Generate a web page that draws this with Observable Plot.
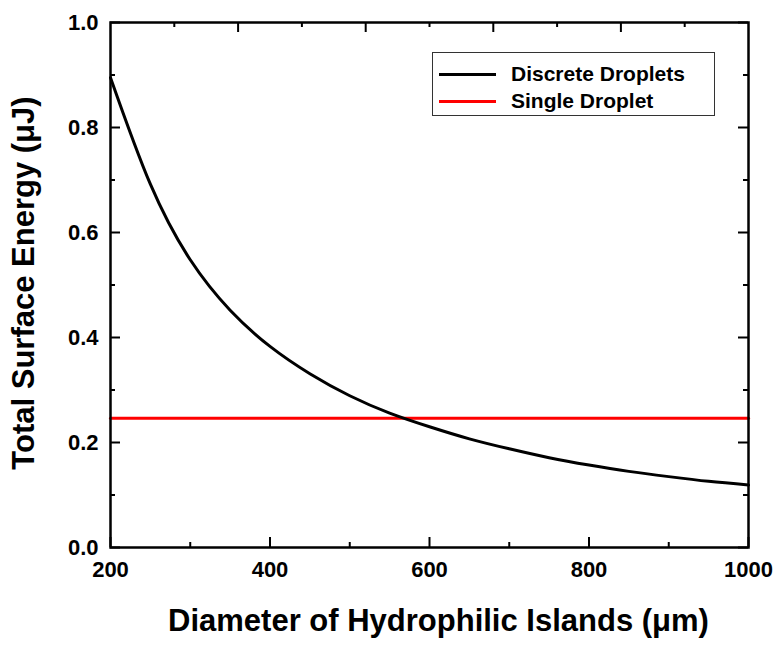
<!DOCTYPE html>
<html>
<head>
<meta charset="utf-8">
<script src="https://cdn.jsdelivr.net/npm/d3@7"></script>
<script src="https://cdn.jsdelivr.net/npm/@observablehq/plot@0.6"></script>
<style>
  html, body { margin: 0; padding: 0; background: #fff; }
  #wrap { position: relative; width: 778px; height: 646px; font-family: "Liberation Sans", Arial, sans-serif; }
  #legend { position: absolute; left: 432px; top: 52px; width: 283px; height: 64px; border: 1px solid #333; box-sizing: border-box; background: #fff; }
  .row { position: absolute; left: 0; height: 24px; display: flex; align-items: center; }
  .swatch { width: 57px; height: 3px; margin-left: 6px; margin-right: 15px; }
  .lab { font-size: 21px; font-weight: bold; color: #000; }
</style>
</head>
<body>
<div id="wrap"><div id="chart"></div><div id="legend"></div></div>
<script>
// Series names and colours
const seriesNames = ["Discrete Droplets", "Single Droplet"];
const seriesColors = ["black", "red"];

// Discrete droplets: total surface energy (µJ) vs island diameter (µm)
const diameter = [200, 250, 300, 350, 400, 450, 500, 550, 600, 650, 700, 750, 800, 850, 900, 950, 1000];
const energy   = [0.895, 0.692, 0.548, 0.452, 0.383, 0.331, 0.289, 0.256, 0.230, 0.207, 0.188, 0.171, 0.157, 0.145, 0.135, 0.126, 0.119];

// Single droplet: constant energy
const singleEnergy = 0.246;
const singleRange = [200, 1000];

// Axis ticks
const xMajor = [200, 400, 600, 800, 1000];
const xMinor = [300, 500, 700, 900];
const xTopMajor = [360, 520, 680, 840];
const xTopMinor = [280, 440, 600, 760, 920];
const yMajor = [0.0, 0.2, 0.4, 0.6, 0.8, 1.0];
const yMinor = [0.1, 0.3, 0.5, 0.7, 0.9];

const xTitle = "Diameter of Hydrophilic Islands (\u03bcm)";
const yTitle = "Total Surface Energy (\u03bcJ)";

const W = 778, H = 646, mL = 110, mR = 30, mT = 22, mB = 99;
const iw = W - mL - mR, ih = H - mT - mB;

const discrete = diameter.map((d, i) => ({d, e: energy[i]}));
const single = singleRange.map(d => ({d, e: singleEnergy}));

const chart = Plot.plot({
  width: W, height: H,
  marginLeft: mL, marginRight: mR, marginTop: mT, marginBottom: mB,
  style: {fontFamily: "'Liberation Sans', Arial, sans-serif", fontWeight: "bold", color: "#000", background: "#fff", overflow: "visible"},
  x: {domain: [200, 1000]},
  y: {domain: [0, 1]},
  marks: [
    Plot.line(single, {x: "d", y: "e", stroke: seriesColors[1], strokeWidth: 3}),
    Plot.line(discrete, {x: "d", y: "e", stroke: seriesColors[0], strokeWidth: 3, curve: "natural"}),
    // inward ticks
    Plot.tickX(xMajor, {x: d => d, insetTop: ih - 10, strokeWidth: 2}),
    Plot.tickX(xMinor, {x: d => d, insetTop: ih - 5, strokeWidth: 2}),
    Plot.tickX(xTopMajor, {x: d => d, insetBottom: ih - 10, strokeWidth: 2}),
    Plot.tickX(xTopMinor, {x: d => d, insetBottom: ih - 5, strokeWidth: 2}),
    Plot.tickY(yMajor, {y: d => d, insetRight: iw - 10, strokeWidth: 2}),
    Plot.tickY(yMinor, {y: d => d, insetRight: iw - 5, strokeWidth: 2}),
    Plot.tickY(yMajor, {y: d => d, insetLeft: iw - 10, strokeWidth: 2}),
    Plot.tickY(yMinor, {y: d => d, insetLeft: iw - 5, strokeWidth: 2}),
    Plot.axisX({ticks: xMajor, tickSize: 0, tickPadding: 14, fontSize: 22, fontWeight: "bold", label: null, tickFormat: d3.format("d")}),
    Plot.axisY({ticks: yMajor, tickSize: 0, tickPadding: 12, fontSize: 22, fontWeight: "bold", label: null, tickFormat: d3.format(".1f")}),
    Plot.frame({stroke: "black", strokeWidth: 2.5}),
    Plot.text([xTitle], {frameAnchor: "bottom", dy: 83, dx: 9, fontSize: 31, fontWeight: "bold", fill: "black", textAnchor: "middle"}),
    Plot.text([yTitle], {frameAnchor: "left", dx: -86, dy: -2, rotate: -90, fontSize: 31, fontWeight: "bold", fill: "black", textAnchor: "middle"})
  ]
});
document.getElementById("chart").appendChild(chart);

const legend = document.getElementById("legend");
seriesNames.forEach((name, i) => {
  const row = document.createElement("div");
  row.className = "row";
  row.style.top = (9 + i * 27) + "px";
  row.innerHTML = `<div class="swatch" style="background:${seriesColors[i]}"></div><span class="lab">${name}</span>`;
  legend.appendChild(row);
});
</script>
</body>
</html>
